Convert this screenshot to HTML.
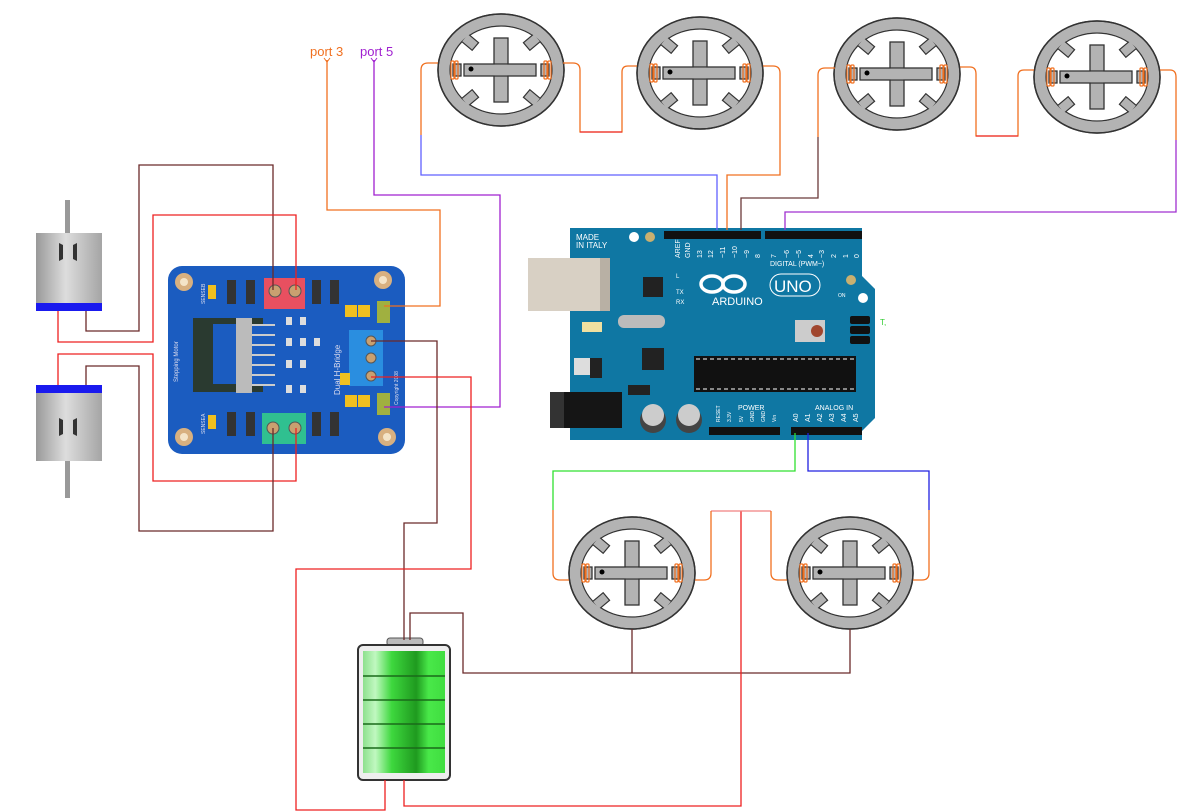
<!DOCTYPE html>
<html><head><meta charset="utf-8"><style>
html,body{margin:0;padding:0;background:#fff}
svg{display:block}
text{font-family:"Liberation Sans",sans-serif}
</style></head><body>
<svg width="1190" height="811" viewBox="0 0 1190 811" xmlns="http://www.w3.org/2000/svg">
<defs>
<g id="srv">
<ellipse cx="0" cy="0" rx="63" ry="56" fill="#b3b3b3" stroke="#333" stroke-width="1.5"/>
<ellipse cx="0" cy="0" rx="51" ry="44" fill="#fff" stroke="#333" stroke-width="1.2"/>
<g fill="#b3b3b3" stroke="#333" stroke-width="1.2">
<rect x="-7" y="-5" width="14" height="10" transform="translate(-31,-28) rotate(40)"/>
<rect x="-7" y="-5" width="14" height="10" transform="translate(31,-28) rotate(-40)"/>
<rect x="-7" y="-5" width="14" height="10" transform="translate(-31,28) rotate(-40)"/>
<rect x="-7" y="-5" width="14" height="10" transform="translate(31,28) rotate(40)"/>
</g>
<ellipse cx="0" cy="0" rx="57" ry="50" fill="none" stroke="#b3b3b3" stroke-width="10.5"/>
<ellipse cx="0" cy="0" rx="63" ry="56" fill="none" stroke="#333" stroke-width="1.5"/>
<g fill="#b3b3b3" stroke="#333" stroke-width="1.3">
<rect x="-7" y="-32" width="14" height="64"/>
<rect x="-37" y="-6" width="72" height="12"/>
<rect x="-6.3" y="-5.3" width="12.6" height="10.6" stroke="none"/>
<rect x="-48" y="-6" width="8" height="12"/>
<rect x="40" y="-6" width="8" height="12"/>
</g>
<circle cx="-30" cy="-1" r="2.5" fill="#000"/>
<g stroke="#f07020" stroke-width="1.2" fill="none">
<rect x="-50" y="-9" width="3" height="18" rx="1"/><rect x="-46" y="-9" width="3" height="18" rx="1"/>
<rect x="43" y="-9" width="3" height="18" rx="1"/><rect x="47" y="-9" width="3" height="18" rx="1"/>
</g>
</g>
<linearGradient id="cyl" x1="0" x2="1"><stop offset="0" stop-color="#999"/><stop offset="0.45" stop-color="#ddd"/><stop offset="1" stop-color="#a5a5a5"/></linearGradient>
<linearGradient id="bat" x1="0" x2="1"><stop offset="0" stop-color="#8ee08e"/><stop offset="0.15" stop-color="#c0f8c0"/><stop offset="0.35" stop-color="#3ed83e"/><stop offset="0.65" stop-color="#1f9a1f"/><stop offset="0.8" stop-color="#49e849"/><stop offset="1" stop-color="#40dd40"/></linearGradient>
</defs>

<!-- DC motors -->
<g>
<rect x="65" y="200" width="5" height="35" fill="#999"/>
<rect x="36" y="233" width="66" height="72" fill="url(#cyl)"/>
<rect x="36" y="303" width="66" height="8" fill="#1a1aee"/>
<path d="M63 245 v14 l-4 2 v-18z M73 245 v14 l4 2 v-18z" fill="#333"/>
<rect x="65" y="460" width="5" height="38" fill="#999"/>
<rect x="36" y="393" width="66" height="68" fill="url(#cyl)"/>
<rect x="36" y="385" width="66" height="8" fill="#1a1aee"/>
<path d="M63 420 v14 l-4 2 v-18z M73 420 v14 l4 2 v-18z" fill="#333"/>
</g>

<!-- Motor driver board -->
<g>
<rect x="168" y="266" width="237" height="188" rx="14" fill="#1b5cc0"/>
<circle cx="184" cy="282" r="9" fill="#d8b080"/><circle cx="184" cy="282" r="4" fill="#f4e4c8"/>
<circle cx="383" cy="280" r="9" fill="#d8b080"/><circle cx="383" cy="280" r="4" fill="#f4e4c8"/>
<circle cx="184" cy="437" r="9" fill="#d8b080"/><circle cx="184" cy="437" r="4" fill="#f4e4c8"/>
<circle cx="387" cy="437" r="9" fill="#d8b080"/><circle cx="387" cy="437" r="4" fill="#f4e4c8"/>
<rect x="264" y="278" width="41" height="31" fill="#e85060"/>
<circle cx="275" cy="291" r="6" fill="#c9a070" stroke="#555"/><circle cx="295" cy="291" r="6" fill="#c9a070" stroke="#555"/>
<rect x="262" y="413" width="44" height="31" fill="#30c090"/>
<circle cx="273" cy="428" r="6" fill="#c9a070" stroke="#555"/><circle cx="295" cy="428" r="6" fill="#c9a070" stroke="#555"/>
<rect x="349" y="330" width="34" height="56" fill="#2a8ee0"/>
<circle cx="371" cy="341" r="5" fill="#c9a070" stroke="#555"/><circle cx="371" cy="358" r="5" fill="#c9a070" stroke="#555"/><circle cx="371" cy="376" r="5" fill="#c9a070" stroke="#555"/>
<path d="M193 318 h70 v6 h-50 v60 h50 v8 h-70z" fill="#2a3a30"/>
<rect x="236" y="318" width="16" height="75" fill="#bbb"/>
<g stroke="#ccc" stroke-width="2"><line x1="252" y1="325" x2="275" y2="325"/><line x1="252" y1="335" x2="275" y2="335"/><line x1="252" y1="345" x2="275" y2="345"/><line x1="252" y1="355" x2="275" y2="355"/><line x1="252" y1="365" x2="275" y2="365"/><line x1="252" y1="375" x2="275" y2="375"/><line x1="252" y1="385" x2="275" y2="385"/></g>
<g fill="#333"><rect x="227" y="280" width="9" height="24"/><rect x="246" y="280" width="9" height="24"/><rect x="312" y="280" width="9" height="24"/><rect x="330" y="280" width="9" height="24"/>
<rect x="227" y="412" width="9" height="24"/><rect x="246" y="412" width="9" height="24"/><rect x="312" y="412" width="9" height="24"/><rect x="330" y="412" width="9" height="24"/></g>
<rect x="208" y="285" width="8" height="14" fill="#f0c020"/><rect x="208" y="415" width="8" height="14" fill="#f0c020"/>
<rect x="345" y="305" width="12" height="12" fill="#f0c020"/><rect x="358" y="305" width="12" height="12" fill="#f0c020"/>
<rect x="345" y="395" width="12" height="12" fill="#f0c020"/><rect x="358" y="395" width="12" height="12" fill="#f0c020"/>
<rect x="340" y="373" width="10" height="12" fill="#f0c020"/>
<rect x="377" y="301" width="13" height="22" fill="#a0b040"/><rect x="377" y="393" width="13" height="22" fill="#a0b040"/>
<g fill="#ddd"><rect x="286" y="317" width="6" height="8"/><rect x="300" y="317" width="6" height="8"/><rect x="286" y="338" width="6" height="8"/><rect x="300" y="338" width="6" height="8"/><rect x="314" y="338" width="6" height="8"/><rect x="286" y="360" width="6" height="8"/><rect x="300" y="360" width="6" height="8"/><rect x="286" y="385" width="6" height="8"/><rect x="300" y="385" width="6" height="8"/></g>
<text x="0" y="0" font-size="8" fill="#dde" transform="translate(340,395) rotate(-90)">Dual H-Bridge</text>
<text x="0" y="0" font-size="6" fill="#dde" transform="translate(178,382) rotate(-90)">Stepping Motor</text>
<text x="0" y="0" font-size="5" fill="#dde" transform="translate(205,304) rotate(-90)">SENSEB</text>
<text x="0" y="0" font-size="5" fill="#dde" transform="translate(205,434) rotate(-90)">SENSEA</text>
<text x="0" y="0" font-size="5" fill="#dde" transform="translate(398,405) rotate(-90)">Copyright 2008</text>
</g>

<!-- Arduino -->
<g>
<path d="M570 228 H862 V276 L875 289 V418 L862 431 V440 H570 Z" fill="#0f77a3"/>
<rect x="528" y="258" width="82" height="53" fill="#d8d0c4"/><rect x="600" y="258" width="10" height="53" fill="#b8b0a4"/>
<rect x="550" y="392" width="72" height="36" fill="#151515"/><rect x="550" y="392" width="14" height="36" fill="#333"/>
<rect x="664" y="231" width="97" height="8" fill="#111"/><rect x="765" y="231" width="97" height="8" fill="#111"/>
<rect x="709" y="427" width="71" height="8" fill="#111"/><rect x="791" y="427" width="71" height="8" fill="#111"/>
<rect x="694" y="356" width="162" height="36" fill="#111"/>
<line x1="696" y1="359" x2="854" y2="359" stroke="#fff" stroke-dasharray="4 3"/><line x1="696" y1="389" x2="854" y2="389" stroke="#fff" stroke-dasharray="4 3"/>
<rect x="643" y="277" width="20" height="20" fill="#222"/>
<rect x="618" y="315" width="47" height="13" rx="6" fill="#bbb"/>
<rect x="642" y="348" width="22" height="22" fill="#222"/>
<rect x="574" y="358" width="16" height="17" fill="#ddd"/><rect x="590" y="358" width="12" height="20" fill="#222"/>
<rect x="628" y="385" width="22" height="10" fill="#222"/>
<rect x="795" y="320" width="30" height="22" fill="#ccc"/><circle cx="817" cy="331" r="6" fill="#a0462e"/>
<rect x="850" y="316" width="20" height="8" rx="2" fill="#111"/><rect x="850" y="326" width="20" height="8" rx="2" fill="#111"/><rect x="850" y="336" width="20" height="8" rx="2" fill="#111"/>
<circle cx="653" cy="420" r="13" fill="#444"/><circle cx="689" cy="420" r="13" fill="#444"/>
<circle cx="653" cy="415" r="11" fill="#ccc"/><circle cx="689" cy="415" r="11" fill="#ccc"/>
<circle cx="634" cy="237" r="5" fill="#fff"/><circle cx="650" cy="237" r="5" fill="#c9b070"/>
<circle cx="851" cy="280" r="5" fill="#c9b070"/><circle cx="863" cy="298" r="5" fill="#fff"/>
<rect x="582" y="322" width="20" height="10" fill="#f0e0a0"/>
<text x="576" y="240" font-size="8" fill="#fff">MADE</text><text x="576" y="248" font-size="8" fill="#fff">IN ITALY</text>
<text x="770" y="266" font-size="7" fill="#fff">DIGITAL (PWM~)</text>
<text x="712" y="305" font-size="11" fill="#fff">ARDUINO</text>
<ellipse cx="712" cy="284" rx="11" ry="8" fill="none" stroke="#fff" stroke-width="3.5"/><ellipse cx="734" cy="284" rx="11" ry="8" fill="none" stroke="#fff" stroke-width="3.5"/>
<rect x="770" y="274" width="50" height="22" rx="11" fill="none" stroke="#fff"/>
<text x="774" y="292" font-size="17" fill="#fff">UNO</text>
<text x="838" y="297" font-size="5" fill="#fff">ON</text>
<text x="676" y="278" font-size="6" fill="#fff">L</text><text x="676" y="294" font-size="6" fill="#fff">TX</text><text x="676" y="304" font-size="6" fill="#fff">RX</text>
<text x="738" y="410" font-size="7" fill="#fff">POWER</text><text x="815" y="410" font-size="7" fill="#fff">ANALOG IN</text>
<g font-size="7" fill="#fff">
<text transform="translate(680,258) rotate(-90)">AREF</text><text transform="translate(690,258) rotate(-90)">GND</text><text transform="translate(702,258) rotate(-90)">13</text><text transform="translate(713,258) rotate(-90)">12</text><text transform="translate(725,258) rotate(-90)">~11</text><text transform="translate(737,258) rotate(-90)">~10</text><text transform="translate(749,258) rotate(-90)">~9</text><text transform="translate(760,258) rotate(-90)">8</text>
<text transform="translate(776,258) rotate(-90)">7</text><text transform="translate(789,258) rotate(-90)">~6</text><text transform="translate(801,258) rotate(-90)">~5</text><text transform="translate(813,258) rotate(-90)">4</text><text transform="translate(824,258) rotate(-90)">~3</text><text transform="translate(836,258) rotate(-90)">2</text><text transform="translate(848,258) rotate(-90)">1</text><text transform="translate(859,258) rotate(-90)">0</text>
<text transform="translate(798,422) rotate(-90)">A0</text><text transform="translate(810,422) rotate(-90)">A1</text><text transform="translate(822,422) rotate(-90)">A2</text><text transform="translate(834,422) rotate(-90)">A3</text><text transform="translate(846,422) rotate(-90)">A4</text><text transform="translate(858,422) rotate(-90)">A5</text>
</g>
<g font-size="5" fill="#fff"><text transform="translate(720,422) rotate(-90)">RESET</text><text transform="translate(731,422) rotate(-90)">3.3V</text><text transform="translate(743,422) rotate(-90)">5V</text><text transform="translate(754,422) rotate(-90)">GND</text><text transform="translate(765,422) rotate(-90)">GND</text><text transform="translate(776,422) rotate(-90)">Vin</text></g>
<text x="880" y="325" font-size="8" fill="#3c3">T,</text>
</g>

<!-- Battery -->
<g>
<rect x="387" y="638" width="36" height="8" rx="3" fill="#bbb" stroke="#555"/>
<rect x="358" y="645" width="92" height="135" rx="5" fill="#eee" stroke="#333" stroke-width="2"/>
<rect x="363" y="651" width="82" height="122" fill="url(#bat)"/>
<g stroke="#1a6a1a" stroke-width="1.5"><line x1="363" y1="676" x2="445" y2="676"/><line x1="363" y1="700" x2="445" y2="700"/><line x1="363" y1="724" x2="445" y2="724"/><line x1="363" y1="748" x2="445" y2="748"/></g>
</g>

<!-- Steppers -->
<use href="#srv" x="501" y="70"/>
<use href="#srv" x="700" y="73"/>
<use href="#srv" x="897" y="74"/>
<use href="#srv" x="1097" y="77"/>
<use href="#srv" x="632" y="573"/>
<use href="#srv" x="850" y="573"/>

<!-- Wires -->
<g fill="none" stroke-width="1.3">
<path d="M86 311 V331 H139 V165 H273 V290" stroke="#6b2a2a"/>
<path d="M58 311 V342 H153 V215 H296 V290" stroke="#ee2020"/>
<path d="M58 385 V354 H153 V481 H296 V428" stroke="#ee2020"/>
<path d="M86 385 V366 H139 V531 H273 V428" stroke="#6b2a2a"/>
<path d="M327 60 V210 H440 V306 H384" stroke="#f07020"/>
<path d="M374 60 V195 H500 V407 H384" stroke="#a020d0"/>
<path d="M371 341 H437 V523 H404 V640" stroke="#6b2a2a"/>
<path d="M371 377 H471 V569 H296 V810 H385 V780" stroke="#ee2020"/>
<path d="M410 640 V613 H463 V673 H850 V629" stroke="#6b2a2a"/>
<path d="M632 629 V673" stroke="#6b2a2a"/>
<path d="M404 780 V806 H741 V511" stroke="#ee2020"/>
<path d="M711 511 H771" stroke="#f08080"/>
<path d="M438 63 H428 Q421 63 421 70 V135" stroke="#f07020"/>
<path d="M421 135 V175 H717 V230" stroke="#6060ff"/>
<path d="M563 63 H573 Q580 63 580 70 V132 H622 V72 Q622 66 628 66 H637" stroke="#f07020"/>
<path d="M580 132 H622" stroke="#ee3030"/>
<path d="M763 66 H773 Q780 66 780 73 V175 H727 V230" stroke="#f07020"/>
<path d="M835 68 H825 Q818 68 818 75 V137" stroke="#f07020"/>
<path d="M818 137 V198 H741 V230" stroke="#6b3a3a"/>
<path d="M960 67 H970 Q976 67 976 74 V136 H1018 V76 Q1018 70 1024 70 H1034" stroke="#f07020"/>
<path d="M976 136 H1018" stroke="#ee3030"/>
<path d="M1160 70 H1170 Q1176 70 1176 77 V140" stroke="#f07020"/>
<path d="M1176 140 V212 H785 V230" stroke="#a030d0"/>
<path d="M569 580 H560 Q553 580 553 573 V510" stroke="#f07020"/>
<path d="M553 510 V471 H795 V433" stroke="#30e030"/>
<path d="M695 580 H704 Q711 580 711 573 V511" stroke="#f07020"/>
<path d="M787 580 H778 Q771 580 771 573 V511" stroke="#f07020"/>
<path d="M913 580 H922 Q929 580 929 573 V510" stroke="#f07020"/>
<path d="M929 510 V471 H808 V433" stroke="#2020e0"/>
</g>

<text x="310" y="56" font-size="13" fill="#f07020">port 3</text>
<text x="360" y="56" font-size="13" fill="#a020d0">port 5</text>
<path d="M324 58 L327 62 L330 58" stroke="#f07020" fill="none"/>
<path d="M371 58 L374 62 L377 58" stroke="#a020d0" fill="none"/>
</svg>
</body></html>
